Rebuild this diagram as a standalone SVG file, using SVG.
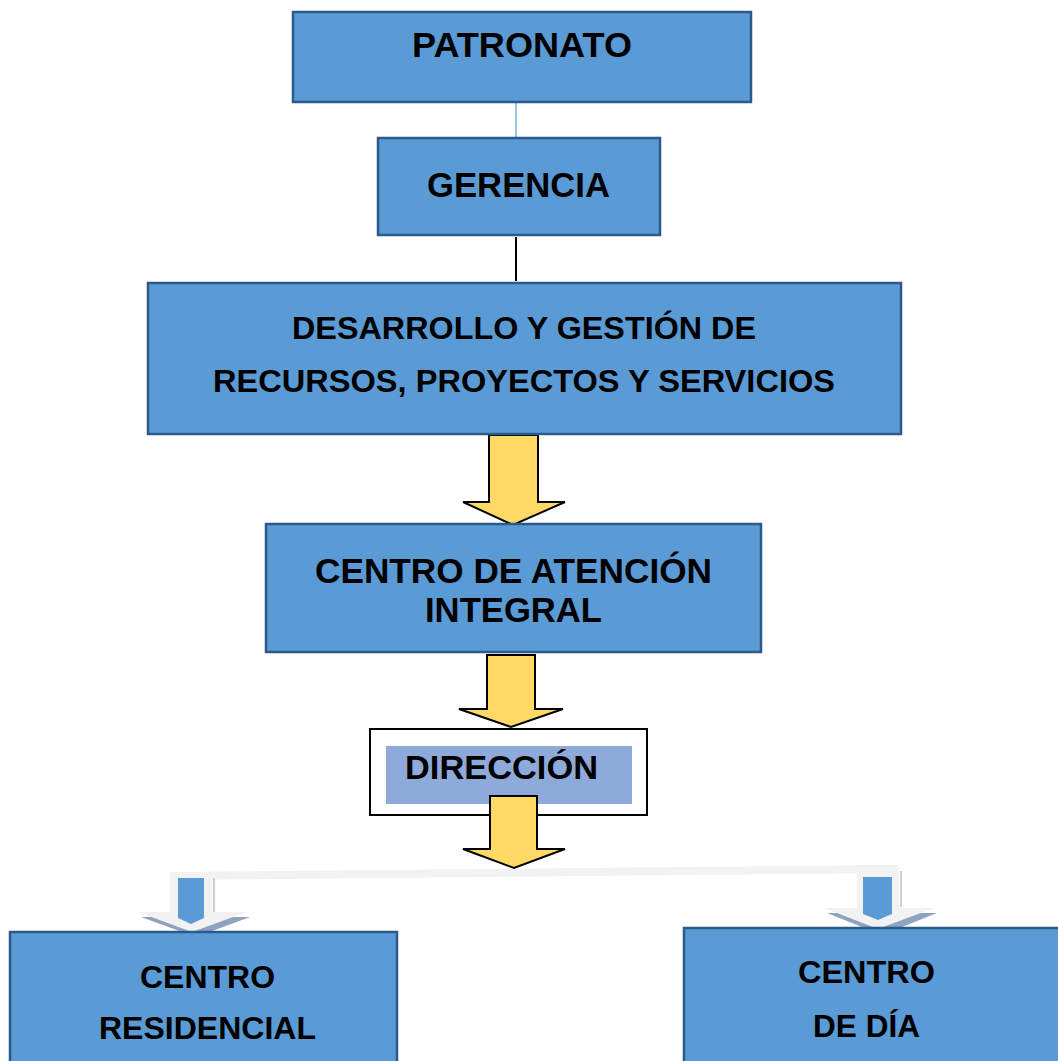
<svg xmlns="http://www.w3.org/2000/svg" width="1058" height="1061" viewBox="0 0 1058 1061">
<style>
.box{fill:#5b9bd5;stroke:#2c5a8a;stroke-width:2.5}
.t{font-family:"Liberation Sans",Arial,sans-serif;font-weight:bold;fill:#000}
.ya{fill:#ffd966;stroke:#000;stroke-width:2;stroke-linejoin:miter}
.ga{fill:#f2f2f2}
.sh{fill:#8ea3c0}
.ba{fill:#5b9bd5}
</style>
<rect width="1058" height="1061" fill="#fff"/>
<g id="connectors">
<line x1="516" y1="102" x2="516" y2="138" stroke="#5b9bd5" stroke-width="1.2"/>
<line x1="516" y1="237" x2="516" y2="281" stroke="#000" stroke-width="2"/>
<polygon class="ya" points="489,435 538,435 538,502 565,502 513,525 463,502 489,502"/>
<polygon class="ya" points="487,655 535,655 535,709 563,709 511,727 459,709 487,709"/>
<g id="split">
<polygon class="ga" points="170,872 899,865 899,873 170,880"/>
<rect x="213" y="878" width="2" height="36" fill="#c5cfdc"/>
<polygon class="sh" points="141,917 250,917 196,937"/>
<polygon class="ga" points="170,872 212,872 212,912 247,912 192,932 138,912 170,912"/>
<polygon class="ba" points="178,878 204,878 204,918 191,924 178,918"/>
<rect x="900" y="871" width="2" height="36" fill="#c5cfdc"/>
<polygon class="sh" points="827,913 937,913 882,935"/>
<polygon class="ga" points="857,865 899,865 899,908 934,908 878,929 824,908 857,908"/>
<polygon class="ba" points="863,877 892,877 892,914 878,920 863,914"/>
</g>
</g>
<g id="patronato">
<rect class="box" x="293" y="12" width="458" height="90"/>
<text class="t" x="412" y="57" font-size="35" textLength="220" lengthAdjust="spacingAndGlyphs">PATRONATO</text>
</g>
<g id="gerencia">
<rect class="box" x="378" y="138" width="282" height="97"/>
<text class="t" x="427" y="197" font-size="35" textLength="183" lengthAdjust="spacingAndGlyphs">GERENCIA</text>
</g>
<g id="desarrollo">
<rect class="box" x="148" y="283" width="753" height="151"/>
<text class="t" x="292" y="339" font-size="32" textLength="464" lengthAdjust="spacingAndGlyphs">DESARROLLO Y GESTIÓN DE</text>
<text class="t" x="213" y="392" font-size="32" textLength="622" lengthAdjust="spacingAndGlyphs">RECURSOS, PROYECTOS Y SERVICIOS</text>
</g>
<g id="centro-atencion">
<rect class="box" x="266" y="524" width="495" height="128"/>
<text class="t" x="315" y="583" font-size="35" textLength="397" lengthAdjust="spacingAndGlyphs">CENTRO DE ATENCIÓN</text>
<text class="t" x="425" y="622" font-size="35" textLength="177" lengthAdjust="spacingAndGlyphs">INTEGRAL</text>
</g>
<g id="direccion">
<rect x="370" y="729" width="277" height="86" fill="#fff" stroke="#000" stroke-width="2"/>
<rect x="386" y="746" width="246" height="58" fill="#8eaadb"/>
<text class="t" x="405" y="779" font-size="34" textLength="193" lengthAdjust="spacingAndGlyphs">DIRECCIÓN</text>
</g>
<polygon class="ya" points="490,796 537,796 537,849 565,849 514,868 463,849 490,849"/>
<g id="centro-residencial">
<rect class="box" x="10" y="932" width="387" height="140"/>
<text class="t" x="140" y="988" font-size="32" textLength="135" lengthAdjust="spacingAndGlyphs">CENTRO</text>
<text class="t" x="99" y="1039" font-size="32" textLength="217" lengthAdjust="spacingAndGlyphs">RESIDENCIAL</text>
</g>
<g id="centro-dia">
<rect class="box" x="684" y="928" width="390" height="144"/>
<text class="t" x="798" y="983" font-size="32" textLength="137" lengthAdjust="spacingAndGlyphs">CENTRO</text>
<text class="t" x="813" y="1037" font-size="32" textLength="107" lengthAdjust="spacingAndGlyphs">DE DÍA</text>
</g>
</svg>
